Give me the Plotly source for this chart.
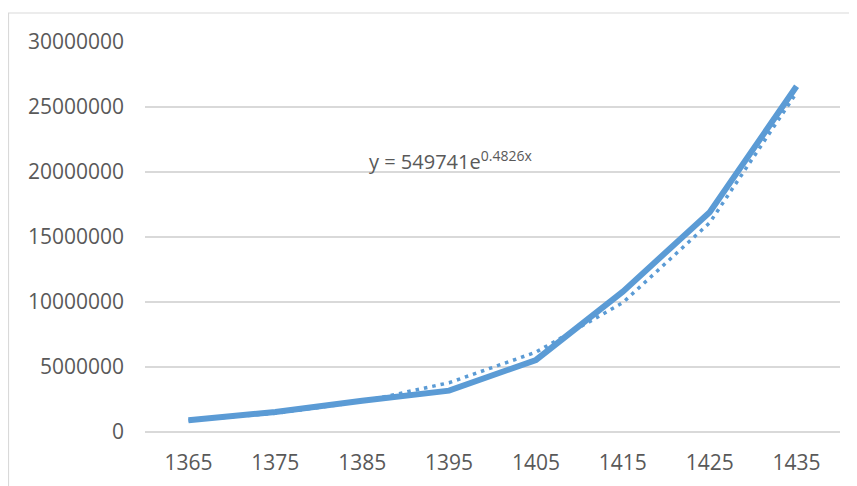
import plotly.graph_objects as go

years = ["1365", "1375", "1385", "1395", "1405", "1415", "1425", "1435"]
values = [900000, 1540000, 2400000, 3180000, 5540000, 10800000, 16900000, 26600000]
trend_values = [890000, 1440000, 2340000, 3790000, 6140000, 9950000, 16100000, 26100000]
y_ticks = [0, 5000000, 10000000, 15000000, 20000000, 25000000, 30000000]
equation = "y = 549741e<sup>0.4826x</sup>"

BLUE = "#5B9BD5"
GRID = "#D9D9D9"
TXT = "#595959"
FONT = "Open Sans"

# page offset (body margin) compensation
OX, OY = 8, 8
L, R, T, B = 145 - OX, 857 - 840 + OX, 42 - OY, 486 - 432 + OY
PW = 857 - L - R
PH = 486 - T - B

fig = go.Figure()
fig.add_trace(go.Scatter(x=years, y=values, mode="lines",
                         line=dict(color=BLUE, width=6), hoverinfo="skip"))
fig.add_trace(go.Scatter(x=years, y=trend_values, mode="lines",
                         line=dict(color=BLUE, width=3.5, dash="3.5px,5px"), hoverinfo="skip"))

def px_x(x):
    return (x - 145) / PW

def px_y(y):
    return (432 - y) / PH

fig.update_layout(
    width=857, height=486,
    margin=dict(l=L, r=R, t=T, b=B),
    paper_bgcolor="white", plot_bgcolor="white",
    showlegend=False,
    font=dict(family=FONT, color=TXT, size=21),
    xaxis=dict(type="category", showgrid=False, showline=False, zeroline=False,
               ticks="", tickfont=dict(size=21, color=TXT, family=FONT),
               ticklabelstandoff=16, range=[-0.5, 7.5]),
    yaxis=dict(range=[0, 30000000], tickvals=y_ticks,
               ticktext=[str(v) for v in y_ticks],
               showgrid=True, gridcolor=GRID, gridwidth=1.5,
               zeroline=True, zerolinecolor=GRID, zerolinewidth=1.5,
               showline=False, ticks="", ticklabelstandoff=20,
               tickfont=dict(size=21, color=TXT, family=FONT)),
    shapes=[dict(type="rect", xref="paper", yref="paper",
                 x0=px_x(8.5), x1=px_x(890),
                 y0=px_y(530), y1=px_y(13),
                 line=dict(color=GRID, width=1.2), fillcolor="rgba(0,0,0,0)",
                 layer="below")],
    annotations=[dict(text=equation, xref="paper", yref="paper",
                      x=px_x(367), y=px_y(160),
                      xanchor="left", yanchor="middle", showarrow=False,
                      font=dict(size=20, color=TXT, family=FONT))],
)

fig.write_html("out.html")
